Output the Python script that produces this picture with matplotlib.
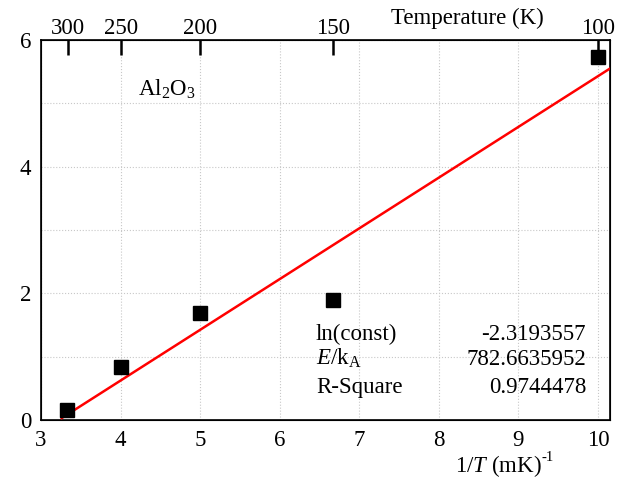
import matplotlib.pyplot as plt
import numpy as np

plt.rcParams['font.family'] = ['Liberation Serif', 'DejaVu Serif']
plt.rcParams['mathtext.fontset'] = 'custom'
plt.rcParams['mathtext.rm'] = 'Liberation Serif'
plt.rcParams['mathtext.it'] = 'Liberation Serif:italic'

# measured points: inverse temperature (1/T in mK^-1) vs ln value
inv_t = [3.33, 4.0, 5.0, 6.67, 10.0]
ln_vals = [0.16, 0.84, 1.69, 1.90, 5.73]

# fitted line endpoints as drawn
fit_x = [3.26, 10.15]
fit_y = [0.03, 5.55]

temps = [300, 250, 200, 150, 100]
fit_labels = ['ln(const)', r'$E$/k$_\mathrm{A}$', 'R-Square']
fit_values = ['-2.3193557', '782.6635952', '0.9744478']

fs = 16.5

fig = plt.figure(figsize=(6.19, 4.88), dpi=100)
ax = fig.add_axes([41 / 619, 68 / 488, 569 / 619, 380 / 488])

ax.set_xlim(3, 10.15)
ax.set_ylim(0, 6)
ax.set_xticks(range(3, 11))
ax.set_yticks([0, 2, 4, 6])
ax.set_xticks(range(4, 11), minor=True)
ax.set_yticks(range(1, 6), minor=True)
ax.grid(True, which='both', color='#c8c8c8', linestyle=':', linewidth=0.8)
ax.tick_params(which='both', length=0, labelsize=fs, pad=7)
for s in ax.spines.values():
    s.set_linewidth(1.2)

ax.plot(fit_x, fit_y, color='red', linewidth=1.8, zorder=3)
ax.plot(inv_t, ln_vals, 's', color='black', markersize=9.5, zorder=4)

# top axis: temperature
top = ax.twiny()
top.set_xlim(ax.get_xlim())
top.set_xticks([1000 / t for t in temps])
top.set_xticklabels([str(t) for t in temps])
top.tick_params(direction='in', length=11, width=1.8, labelsize=fs, pad=1)
fig.text(467 / 619, 1 - 18 / 488, 'Temperature (K)', ha='center', va='center', fontsize=fs)

ax.text(0.17, 0.87, r'Al$_2$O$_3$', transform=ax.transAxes, ha='left', va='center', fontsize=fs)

fig.text(455 / 619, 1 - 472 / 488, r'1/$T$ (mK)', ha='left', va='baseline', fontsize=fs)
fig.text(541 / 619, 1 - 461 / 488, '-1', ha='left', va='baseline', fontsize=fs * 0.65)

row_y = [0.2105, 0.1447, 0.071]
for lab, val, yy in zip(fit_labels, fit_values, row_y):
    ax.text(0.483, yy, lab, transform=ax.transAxes, ha='left', va='baseline', fontsize=fs)
    ax.text(0.958, yy, val, transform=ax.transAxes, ha='right', va='baseline', fontsize=fs)

fig.savefig('out.png', dpi=100)
